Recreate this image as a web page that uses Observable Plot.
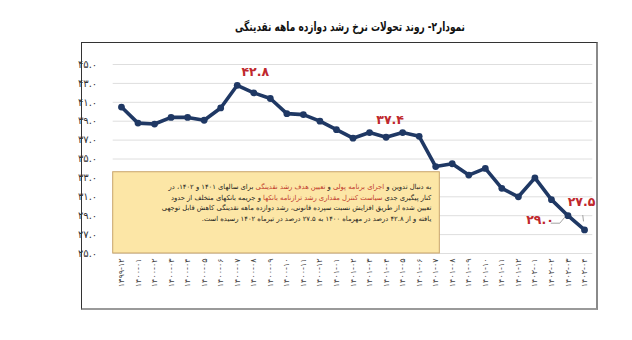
<!DOCTYPE html>
<html><head><meta charset="utf-8">
<script src="https://cdn.jsdelivr.net/npm/d3@7"></script>
<script src="https://cdn.jsdelivr.net/npm/@observablehq/plot@0.6"></script>
<style>
body{margin:0;background:#fff;}
#wrap{position:relative;width:632px;height:340px;overflow:hidden;background:#fff;}
#title{position:absolute;left:0;top:0;}
#frame{position:absolute;left:81px;top:42px;width:514px;height:265px;border:1px solid #333;border-right:2px solid #8a8a8a;border-bottom:2px solid #9a9a9a;}
#frame svg{display:block;}
</style></head><body>
<div id="wrap"><svg id="title" width="632" height="42"></svg><div id="frame"></div></div>
<script>
// ---- data ----
const months = ["۱۳۹۹-۱۲","۱۴۰۰-۰۱","۱۴۰۰-۰۲","۱۴۰۰-۰۳","۱۴۰۰-۰۴","۱۴۰۰-۰۵","۱۴۰۰-۰۶","۱۴۰۰-۰۷","۱۴۰۰-۰۸","۱۴۰۰-۰۹","۱۴۰۰-۱۰","۱۴۰۰-۱۱","۱۴۰۰-۱۲","۱۴۰۱-۰۱","۱۴۰۱-۰۲","۱۴۰۱-۰۳","۱۴۰۱-۰۴","۱۴۰۱-۰۵","۱۴۰۱-۰۶","۱۴۰۱-۰۷","۱۴۰۱-۰۸","۱۴۰۱-۰۹","۱۴۰۱-۱۰","۱۴۰۱-۱۱","۱۴۰۱-۱۲","۱۴۰۲-۰۱","۱۴۰۲-۰۲","۱۴۰۲-۰۳","۱۴۰۲-۰۴"];
const growth = [40.5, 38.8, 38.7, 39.4, 39.4, 39.1, 40.4, 42.8, 42.0, 41.4, 39.8, 39.7, 39.0, 38.1, 37.2, 37.8, 37.3, 37.8, 37.4, 34.2, 34.5, 33.3, 34.0, 31.9, 31.0, 33.0, 30.7, 29.0, 27.5];
const yTicks = [25, 27, 29, 31, 33, 35, 37, 39, 41, 43, 45];
const labeledIdx = [7, 18, 27, 28];
const titleText = "نمودار۲- روند تحولات نرخ رشد دوازده ماهه نقدینگی";
const noteLines = [
  [["به دنبال تدوین و ", 0], ["اجرای برنامه پولی", 1], [" و ", 0], ["تعیین هدف رشد نقدینگی", 1], [" برای سالهای ۱۴۰۱ و ۱۴۰۲، در", 0]],
  [["کنار پیگیری جدی ", 0], ["سیاست کنترل مقداری رشد ترازنامه بانکها", 1], [" و جریمه بانکهای متخلف از حدود", 0]],
  [["تعیین شده از طریق افزایش نسبت سپرده قانونی، رشد دوازده ماهه نقدینگی کاهش قابل توجهی", 0]],
  [["یافته و از ۴۲.۸ درصد در مهرماه ۱۴۰۰ به ۲۷.۵ درصد در تیرماه ۱۴۰۲ رسیده است.", 0]]
];
// annotation box extent (data units)
const noteBox = {x1: -0.5, x2: 19.25, y1: 25, y2: 33.6};

// ---- styles ----
const NAVY = "#1f3864", RED = "#c0282d", FONT = "DejaVu Sans";
const fa = s => String(s).replace(/[0-9]/g, d => "۰۱۲۳۴۵۶۷۸۹"[+d]);
const data = growth.map((v, i) => ({i, v}));
const labelStyle = {7: [18, -13], 18: [-29, -16], 27: [-28, 4], 28: [-3, -28]};

const plot = Plot.plot({
  width: 514, height: 265,
  marginLeft: 30.7, marginRight: 3.7, marginTop: 21, marginBottom: 55,
  x: {type: "linear", domain: [-0.5, 28.5]},
  y: {domain: [25, 45]},
  style: {fontFamily: FONT, background: "transparent", overflow: "visible"},
  marks: [
    Plot.ruleY(yTicks, {stroke: "#dedede", strokeWidth: 1}),
    Plot.axisY({ticks: yTicks, tickFormat: d => fa(d.toFixed(1)), tickSize: 0, tickPadding: 16, fontSize: 10, fill: "#333"}),
    Plot.axisX({ticks: d3.range(months.length), tickFormat: i => months[i], tickRotate: -90, tickSize: 0, tickPadding: 5, fontSize: 8, fill: "#444"}),
    Plot.rect([noteBox], {x1: "x1", x2: "x2", y1: "y1", y2: "y2", fill: "#fce6a6", stroke: "#c9a46a", strokeWidth: 1}),
    Plot.line(data, {x: "i", y: "v", stroke: NAVY, strokeWidth: 3.6}),
    Plot.dot(data, {x: "i", y: "v", r: 3.4, fill: NAVY}),
    ...labeledIdx.map(i => Plot.text([data[i]], {x: "i", y: "v", text: d => fa(d.v.toFixed(1)), dx: labelStyle[i][0], dy: labelStyle[i][1], fill: RED, fontWeight: "bold", fontSize: 12.5}))
  ]
});
document.getElementById("frame").appendChild(plot);

const svg = d3.select(plot);
const sx = plot.scale("x"), sy = plot.scale("y");
// note text: fit a common font size so the full lines span the box width
const xr = sx.apply(noteBox.x2) - 8, yt = sy.apply(noteBox.y2);
const g = svg.append("g").attr("font-family", FONT).attr("font-size", 8.3);
const texts = noteLines.map((segs, k) => {
  const t = g.append("text").attr("x", xr).attr("y", yt + 17.5 + k * 10.5)
    .attr("direction", "rtl").attr("text-anchor", "start");
  segs.forEach(([s, c]) => t.append("tspan").attr("fill", c ? "#c0392b" : "#1a1a1a").text(s));
  return t;
});
const target = 270;
const fit = d3.min(texts.slice(0, 3), t => 8.3 * target / t.node().getComputedTextLength());
const fs = Math.max(6.5, Math.min(9, fit));
g.attr("font-size", fs);

// leader lines
const lead = (i, pts) => {
  const px = sx.apply(i), py = sy.apply(growth[i]);
  svg.append("path").attr("fill", "none").attr("stroke", "#8c8c8c").attr("stroke-width", 0.8)
    .attr("d", d3.line()(pts.map(([dx, dy]) => [px + dx, py + dy])));
};
lead(27, [[-16.7, 8], [-7.7, 8], [-2.7, 2]]);
lead(28, [[-1.3, -14.3], [-0.5, -8]]);

// title
d3.select("#title").append("text").attr("x", 350).attr("y", 31)
  .attr("text-anchor", "middle").attr("direction", "rtl")
  .attr("font-family", FONT).attr("font-weight", "bold").attr("font-size", 12.5).attr("fill", "#111")
  .attr("textLength", 230).attr("lengthAdjust", "spacingAndGlyphs").text(titleText);
</script>
</body></html>
